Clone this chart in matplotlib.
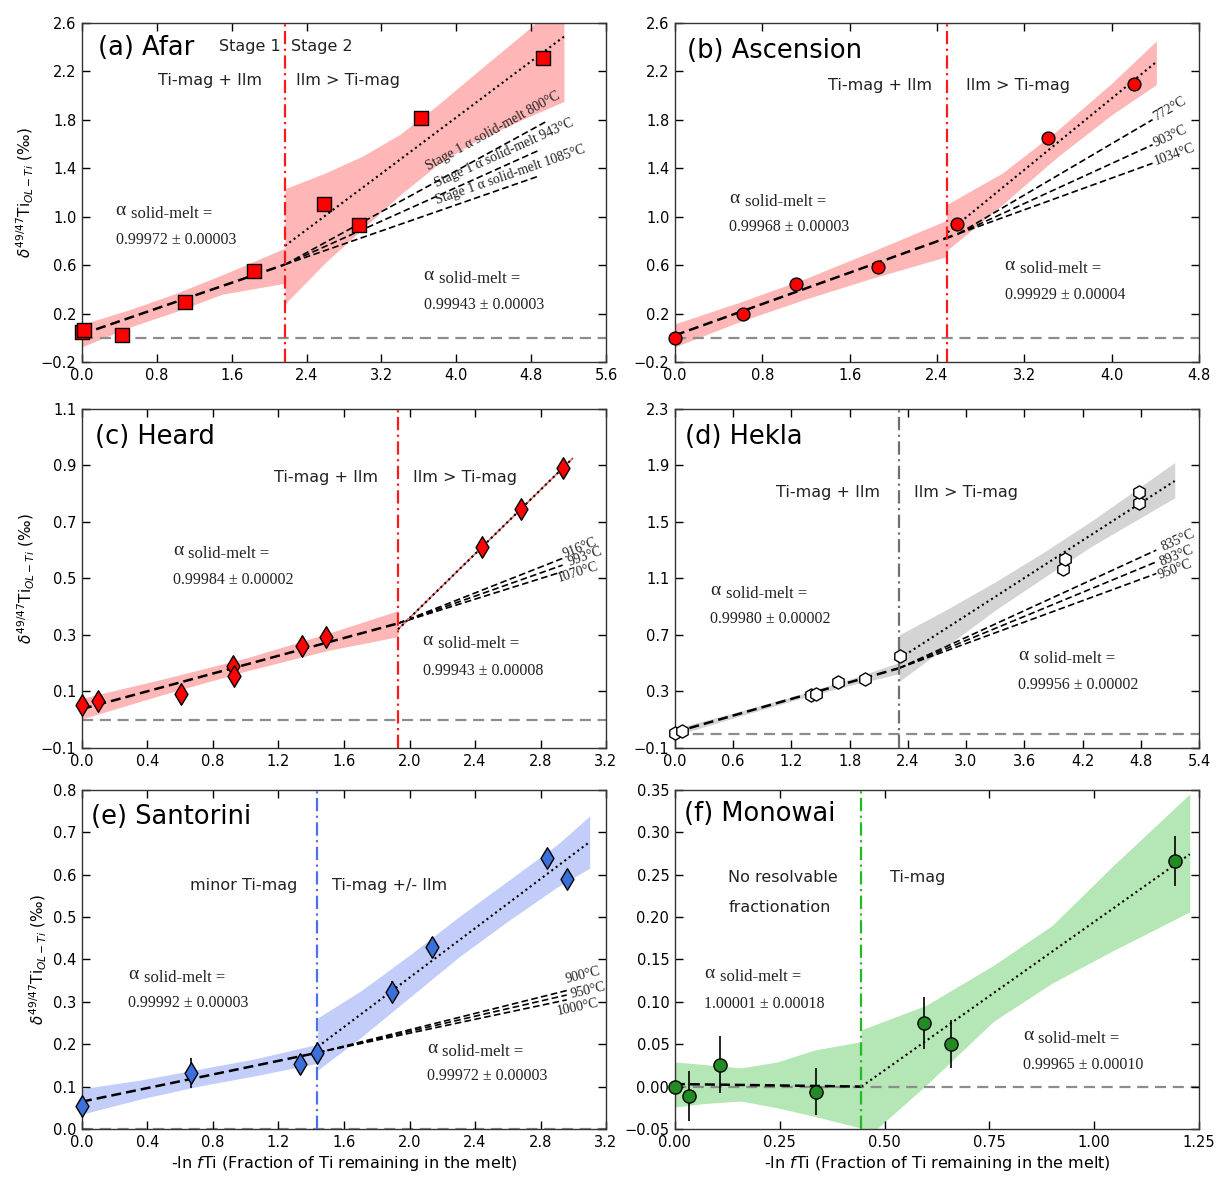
import numpy as np
import matplotlib
matplotlib.use('Agg')
import matplotlib.pyplot as plt

plt.rcParams['font.family'] = 'DejaVu Sans'
plt.rcParams['mathtext.fontset'] = 'dejavusans'
SERIF = 'Liberation Serif'

# ---------------- data ----------------
# (a) Afar
a_x = [0.0, 0.025, 0.43, 1.10, 1.84, 2.59, 2.96, 3.62, 4.93]
a_y = [0.045, 0.06, 0.02, 0.295, 0.55, 1.105, 0.93, 1.815, 2.31]
a_break = 2.17
a_s1 = [(0.0, 0.03), (2.17, 0.605)]
a_s2 = [(2.17, 0.759), (5.15, 2.485)]
a_band1_x = [0.0, 0.5, 1.0, 1.5, 2.17]
a_band1_lo = [-0.075, 0.085, 0.215, 0.36, 0.45]
a_band1_hi = [0.11, 0.23, 0.365, 0.52, 0.74]
a_band2_x = [2.17, 2.6, 3.0, 3.4, 3.8, 4.2, 4.7, 5.15]
a_band2_lo = [0.28, 0.62, 0.90, 1.18, 1.43, 1.62, 1.80, 1.95]
a_band2_hi = [1.23, 1.36, 1.50, 1.68, 1.92, 2.18, 2.50, 2.80]
a_temp_end_x = [4.95, 4.90, 4.88]
a_temp_end_y = [1.78, 1.553, 1.334]
a_temp_labels = ['Stage 1 α solid-melt 800°C', 'Stage 1 α solid-melt 943°C',
                 'Stage 1 α solid-melt 1085°C']
a_temp_pos = [(3.72, 1.36), (3.80, 1.22), (3.80, 1.08)]

# (b) Ascension
b_x = [0.0, 0.62, 1.11, 1.86, 2.585, 3.42, 4.206]
b_y = [0.0, 0.20, 0.443, 0.586, 0.939, 1.648, 2.095]
b_break = 2.49
b_s1 = [(0.0, 0.02), (2.6, 0.86)]
b_s2 = [(2.5, 0.87), (4.41, 2.277)]
b_band1_x = [0.0, 0.6, 1.2, 1.8, 2.49]
b_band1_lo = [-0.075, 0.135, 0.32, 0.49, 0.67]
b_band1_hi = [0.115, 0.295, 0.49, 0.71, 0.97]
b_band2_x = [2.49, 3.0, 3.5, 4.0, 4.41]
b_band2_lo = [0.72, 1.10, 1.49, 1.84, 2.09]
b_band2_hi = [1.10, 1.36, 1.71, 2.10, 2.45]
b_temp_end_x = [4.375, 4.375, 4.375]
b_temp_end_y = [1.80, 1.593, 1.44]
b_temp_labels = ['772°C', '903°C', '1034°C']
b_temp_pos = [(4.39, 1.81), (4.39, 1.60), (4.39, 1.45)]

# (c) Heard
c_x = [0.0, 0.097, 0.604, 0.923, 0.93, 1.345, 1.49, 2.44, 2.68, 2.935]
c_y = [0.053, 0.067, 0.092, 0.191, 0.156, 0.261, 0.294, 0.612, 0.746, 0.892]
c_break = 1.927
c_s1 = [(0.0, 0.038), (1.93, 0.341)]
c_s2 = [(1.93, 0.32), (2.995, 0.924)]
c_band1_x = [0.0, 0.5, 1.0, 1.5, 1.93]
c_band1_lo = [0.003, 0.09, 0.172, 0.245, 0.294]
c_band1_hi = [0.076, 0.145, 0.218, 0.305, 0.386]
c_temp_end_x = [2.935, 2.935, 2.935]
c_temp_end_y = [0.571, 0.547, 0.524]
c_temp_labels = ['916°C', '993°C', '1070°C']
c_temp_pos = [(3.04, 0.606), (3.07, 0.578), (3.03, 0.52)]

# (d) Hekla
d_x = [0.0, 0.07, 1.405, 1.458, 1.68, 1.964, 2.32, 4.0, 4.02, 4.78, 4.787]
d_y = [0.004, 0.019, 0.276, 0.283, 0.366, 0.39, 0.548, 1.163, 1.234, 1.631, 1.709]
d_break = 2.31
d_s1 = [(0.0, 0.012), (2.31, 0.465)]
d_s2 = [(2.32, 0.536), (5.15, 1.789)]
d_band1_x = [0.0, 0.6, 1.2, 1.8, 2.31]
d_band1_lo = [-0.013, 0.112, 0.232, 0.343, 0.425]
d_band1_hi = [0.037, 0.148, 0.262, 0.387, 0.505]
d_band2_x = [2.31, 2.8, 3.3, 3.8, 4.3, 4.8, 5.15]
d_band2_lo = [0.37, 0.62, 0.875, 1.105, 1.33, 1.53, 1.67]
d_band2_hi = [0.70, 0.88, 1.075, 1.285, 1.51, 1.75, 1.92]
d_temp_end_x = [4.96, 4.96, 4.96]
d_temp_end_y = [1.30, 1.217, 1.134]
d_temp_labels = ['835°C', '893°C', '950°C']
d_temp_pos = [(5.18, 1.37), (5.17, 1.26), (5.15, 1.16)]

# (e) Santorini
e_x = [0.0, 0.664, 1.33, 1.435, 1.896, 2.14, 2.84, 2.96]
e_y = [0.055, 0.132, 0.154, 0.179, 0.324, 0.428, 0.639, 0.589]
e_err = [0.012, 0.035, 0.024, 0.02, 0.025, 0.024, 0.021, 0.023]
e_break = 1.437
e_s1 = [(0.0, 0.0645), (1.44, 0.18)]
e_s2 = [(1.44, 0.194), (3.097, 0.676)]
e_band1_x = [0.0, 0.35, 0.7, 1.05, 1.44]
e_band1_lo = [0.035, 0.07, 0.10, 0.125, 0.155]
e_band1_hi = [0.095, 0.115, 0.14, 0.165, 0.20]
e_band2_x = [1.44, 1.7, 2.0, 2.3, 2.6, 2.9, 3.1]
e_band2_lo = [0.139, 0.215, 0.31, 0.405, 0.49, 0.57, 0.615]
e_band2_hi = [0.262, 0.325, 0.41, 0.50, 0.585, 0.67, 0.738]
e_temp_end_x = [2.96, 2.96, 2.96]
e_temp_end_y = [0.3265, 0.316, 0.3045]
e_temp_labels = ['900°C', '950°C', '1000°C']
e_temp_pos = [(3.06, 0.362), (3.09, 0.327), (3.03, 0.288)]

# (f) Monowai
f_x = [0.0, 0.033, 0.107, 0.336, 0.593, 0.658, 1.194]
f_y = [-0.001, -0.011, 0.026, -0.006, 0.075, 0.050, 0.266]
f_err = [0.004, 0.029, 0.034, 0.028, 0.031, 0.028, 0.030]
f_break = 0.445
f_s1 = [(0.0, 0.003), (0.445, 0.0)]
f_s2 = [(0.445, 0.0), (1.228, 0.274)]
f_band1_x = [0.0, 0.07, 0.157, 0.244, 0.332, 0.445]
f_band1_lo = [-0.024, -0.02, -0.017, -0.025, -0.035, -0.049]
f_band1_hi = [0.029, 0.026, 0.022, 0.029, 0.043, 0.053]
f_band2_x = [0.445, 0.6, 0.76, 0.9, 1.04, 1.228]
f_band2_lo = [-0.066, 0.002, 0.077, 0.122, 0.159, 0.206]
f_band2_hi = [0.067, 0.096, 0.143, 0.19, 0.258, 0.345]

# ---------------- helpers ----------------
def fmt(v, dec):
    v = round(float(v), dec) + 0.0
    if abs(v) < 1e-12:
        v = 0.0
    return f'{v:.{dec}f}'.replace('-', '\u2212')


def style(ax, xt, yt, xdec, ydec):
    ax.set_xlim(xt[0], xt[-1])
    ax.set_ylim(yt[0], yt[-1])
    ax.set_xticks(xt, [fmt(v, xdec) for v in xt])
    ax.set_yticks(yt, [fmt(v, ydec) for v in yt])
    ax.tick_params(direction='in', top=True, right=True, length=6, width=1,
                   labelsize=10.5, pad=4)
    for s in ax.spines.values():
        s.set_linewidth(1.0)
        s.set_color('#333333')
    ax.axhline(0, color='#8c8c8c', lw=1.6, ls=(0, (5, 3)), zorder=1.5)


def fits(ax, s1, s2, dotted_under=None):
    (x0, y0), (x1, y1) = s1
    ax.plot([x0, x1], [y0, y1], color='black', lw=1.8, ls=(0, (4, 2)), zorder=2.5)
    (x0, y0), (x1, y1) = s2
    if dotted_under:
        ax.plot([x0, x1], [y0, y1], color=dotted_under, lw=1.2, zorder=2.4)
    ax.plot([x0, x1], [y0, y1], color='black', lw=1.5, ls=(0, (1, 1.6)), zorder=2.5)


def temps(ax, start, end_x, end_y, labels, pos, size=10, ha='center', va='center'):
    x0, y0 = start
    for ex, ey, lab, (tx, ty) in zip(end_x, end_y, labels, pos):
        ax.plot([x0, ex], [y0, ey], color='black', lw=1.2, ls=(0, (4, 2)), zorder=2.3)
        ang = np.degrees(np.arctan((ey - y0) / (ex - x0)))
        ax.text(tx, ty, lab, family=SERIF, fontsize=size, rotation=ang,
                rotation_mode='anchor', transform_rotates_text=True,
                ha=ha, va=va, zorder=3, color='#222222')


def alpha_note(ax, x, y, yv, value):
    ax.text(x, y, 'α', family=SERIF, fontsize=14, va='center', color='#222222')
    ax.annotate('solid-melt =', xy=(x, y), xytext=(11, -2.5), textcoords='offset points',
                family=SERIF, fontsize=12, va='center', color='#222222')
    ax.text(x, yv, value, family=SERIF, fontsize=11.5, va='center', color='#222222')


def title(ax, s, x, y):
    ax.text(x, y, s, transform=ax.transAxes, fontsize=18.5, va='center', ha='left')


def label(ax, s, x, y, ha='center'):
    ax.text(x, y, s, fontsize=11.5, ha=ha, va='center', color='#222222')


def vline(ax, x, c):
    ax.axvline(x, color=c, lw=1.6, ls=(0, (6, 2, 1, 2)), zorder=2.6)


def points(ax, x, y, marker, s, color, err=None):
    if err is not None:
        ax.errorbar(x, y, yerr=err, fmt='none', ecolor='black', elinewidth=1.2,
                    zorder=3.5, clip_on=False)
    ax.scatter(x, y, marker=marker, s=s, color=color, edgecolor='black', lw=1,
               zorder=4, clip_on=False)


# ---------------- figure ----------------
fig = plt.figure(figsize=(12.16, 11.78), dpi=100)
lefts = [0.0674, 0.555]
bottoms = [0.6927, 0.365, 0.0416]
W, H = 0.431, 0.2880
axs = {}
for i, key in enumerate('abcdef'):
    row, col = divmod(i, 2)
    axs[key] = fig.add_axes([lefts[col], bottoms[row], W, H])

pink = '#ffb6b6'
ylab = r'$\delta^{49/47}$Ti$_{OL-Ti}$ (‰)'
xlab = r'-ln $f$Ti (Fraction of Ti remaining in the melt)'

# (a) Afar
ax = axs['a']
style(ax, np.linspace(0, 5.6, 8), np.linspace(-0.2, 2.6, 8), 1, 1)
ax.fill_between(a_band1_x, a_band1_lo, a_band1_hi, color=pink, lw=0, zorder=1)
ax.fill_between(a_band2_x, a_band2_lo, a_band2_hi, color=pink, lw=0, zorder=1)
vline(ax, a_break, '#ff1a1a')
fits(ax, a_s1, a_s2)
temps(ax, a_s1[1], a_temp_end_x, a_temp_end_y, a_temp_labels, a_temp_pos,
      size=10, ha='left', va='bottom')
points(ax, a_x, a_y, 's', 95, '#ff0000')
title(ax, '(a) Afar', 0.03, 0.925)
label(ax, 'Stage 1', 1.79, 2.40)
label(ax, 'Stage 2', 2.56, 2.40)
label(ax, 'Ti-mag + Ilm', 1.37, 2.12)
label(ax, 'Ilm > Ti-mag', 2.84, 2.12)
alpha_note(ax, 0.36, 1.047, 0.805, '0.99972 ± 0.00003')
alpha_note(ax, 3.65, 0.512, 0.274, '0.99943 ± 0.00003')
ax.set_ylabel(ylab, fontsize=11, labelpad=3)

# (b) Ascension
ax = axs['b']
style(ax, np.linspace(0, 4.8, 7), np.linspace(-0.2, 2.6, 8), 1, 1)
ax.fill_between(b_band1_x, b_band1_lo, b_band1_hi, color=pink, lw=0, zorder=1)
ax.fill_between(b_band2_x, b_band2_lo, b_band2_hi, color=pink, lw=0, zorder=1)
vline(ax, b_break, '#ff1a1a')
fits(ax, b_s1, b_s2)
temps(ax, b_s1[1], b_temp_end_x, b_temp_end_y, b_temp_labels, b_temp_pos, ha='left')
points(ax, b_x, b_y, 'o', 85, '#ff0000')
title(ax, '(b) Ascension', 0.024, 0.918)
label(ax, 'Ti-mag + Ilm', 1.88, 2.08)
label(ax, 'Ilm > Ti-mag', 3.14, 2.08)
alpha_note(ax, 0.50, 1.152, 0.917, '0.99968 ± 0.00003')
alpha_note(ax, 3.02, 0.60, 0.352, '0.99929 ± 0.00004')

# (c) Heard
ax = axs['c']
style(ax, np.linspace(0, 3.2, 9), np.linspace(-0.1, 1.1, 7), 1, 1)
ax.fill_between(c_band1_x, c_band1_lo, c_band1_hi, color=pink, lw=0, zorder=1)
vline(ax, c_break, '#ff1a1a')
fits(ax, c_s1, c_s2, dotted_under='#f07070')
temps(ax, c_s1[1], c_temp_end_x, c_temp_end_y, c_temp_labels, c_temp_pos)
points(ax, c_x, c_y, 'd', 120, '#ff0000')
title(ax, '(c) Heard', 0.025, 0.917)
label(ax, 'Ti-mag + Ilm', 1.49, 0.857)
label(ax, 'Ilm > Ti-mag', 2.336, 0.857)
alpha_note(ax, 0.556, 0.60, 0.496, '0.99984 ± 0.00002')
alpha_note(ax, 2.08, 0.28, 0.174, '0.99943 ± 0.00008')
ax.set_ylabel(ylab, fontsize=11, labelpad=3)

# (d) Hekla
ax = axs['d']
style(ax, np.linspace(0, 5.4, 10), np.linspace(-0.1, 2.3, 7), 1, 1)
ax.fill_between(d_band1_x, d_band1_lo, d_band1_hi, color='#d4d4d4', lw=0, zorder=1)
ax.fill_between(d_band2_x, d_band2_lo, d_band2_hi, color='#d4d4d4', lw=0, zorder=1)
vline(ax, d_break, '#707070')
fits(ax, d_s1, d_s2)
temps(ax, d_s1[1], d_temp_end_x, d_temp_end_y, d_temp_labels, d_temp_pos)
points(ax, d_x, d_y, 'h', 90, 'white')
title(ax, '(d) Hekla', 0.019, 0.918)
label(ax, 'Ti-mag + Ilm', 1.58, 1.707)
label(ax, 'Ilm > Ti-mag', 3.0, 1.707)
alpha_note(ax, 0.365, 1.016, 0.81, '0.99980 ± 0.00002')
alpha_note(ax, 3.54, 0.555, 0.347, '0.99956 ± 0.00002')

# (e) Santorini
ax = axs['e']
style(ax, np.linspace(0, 3.2, 9), np.linspace(0, 0.8, 9), 1, 1)
ax.fill_between(e_band1_x, e_band1_lo, e_band1_hi, color='#c3cdfa', lw=0, zorder=1)
ax.fill_between(e_band2_x, e_band2_lo, e_band2_hi, color='#c3cdfa', lw=0, zorder=1)
vline(ax, e_break, '#4d6ff2')
fits(ax, e_s1, e_s2)
temps(ax, e_s1[1], e_temp_end_x, e_temp_end_y, e_temp_labels, e_temp_pos)
points(ax, e_x, e_y, 'd', 120, '#3b6fd9', err=e_err)
title(ax, '(e) Santorini', 0.018, 0.921)
label(ax, 'minor Ti-mag', 0.99, 0.574)
label(ax, 'Ti-mag +/- Ilm', 1.877, 0.574)
alpha_note(ax, 0.283, 0.365, 0.297, '0.99992 ± 0.00003')
alpha_note(ax, 2.106, 0.19, 0.124, '0.99972 ± 0.00003')
ax.set_ylabel(ylab, fontsize=11, labelpad=3)
ax.set_xlabel(xlab, fontsize=11.5, labelpad=3)

# (f) Monowai
ax = axs['f']
style(ax, np.linspace(0, 1.25, 6), np.linspace(-0.05, 0.35, 9), 2, 2)
ax.fill_between(f_band1_x, f_band1_lo, f_band1_hi, color='#b5e6b5', lw=0, zorder=1)
ax.fill_between(f_band2_x, f_band2_lo, f_band2_hi, color='#b5e6b5', lw=0, zorder=1)
vline(ax, f_break, '#22bb22')
fits(ax, f_s1, f_s2)
points(ax, f_x, f_y, 'o', 90, '#238b23', err=f_err)
title(ax, '(f) Monowai', 0.017, 0.928)
label(ax, 'No resolvable', 0.127, 0.247, ha='left')
label(ax, 'fractionation', 0.127, 0.211, ha='left')
label(ax, 'Ti-mag', 0.514, 0.247, ha='left')
alpha_note(ax, 0.07, 0.133, 0.097, '1.00001 ± 0.00018')
alpha_note(ax, 0.83, 0.06, 0.025, '0.99965 ± 0.00010')
ax.set_xlabel(xlab, fontsize=11.5, labelpad=3)

fig.savefig('out.png', dpi=100)
